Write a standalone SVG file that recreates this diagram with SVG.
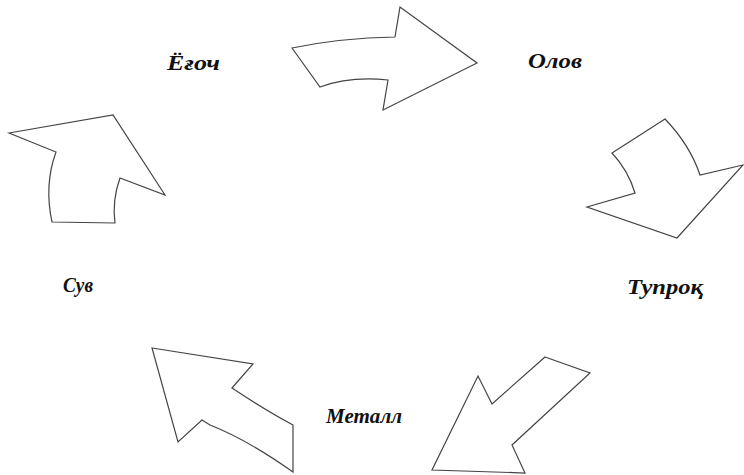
<svg xmlns="http://www.w3.org/2000/svg" width="744" height="475" viewBox="0 0 744 475">
<style>
.lbl{font-family:"Liberation Serif","DejaVu Serif",serif;font-style:italic;font-weight:bold;font-size:20px;fill:#111}
.arr{fill:#fff;stroke:#444;stroke-width:1.2;stroke-linejoin:miter}
</style>
<rect width="744" height="475" fill="#fff"/>
<g id="connectors">
<path class="arr" d="M292,48 Q340,38 395,37 L400,7 L477,63 L383,110 L388,80 Q350,76 320,87 Z"/>
<path class="arr" d="M612,153 L665,119 Q690,145 700,175 L743,165 L677,238 L587,207 L635,193 Q628,170 612,153 Z"/>
<path class="arr" d="M9,133 L113,115 L165,195 L120,178 Q112,200 115,223 L52,222 Q44,185 56,152 Z"/>
<path class="arr" d="M152,348 L253,364 L232,388 Q265,410 293,425 L293,472 Q248,440 210,425 L202,420 L178,442 Z"/>
<path class="arr" d="M545,357 L590,373 L512,445 L525,473 L432,470 L478,376 L492,404 Z"/>
</g>
<g id="node-yogoch"><text class="lbl" x="167" y="70" textLength="53" lengthAdjust="spacingAndGlyphs">Ёғоч</text></g>
<g id="node-olov"><text class="lbl" x="528" y="68" textLength="54" lengthAdjust="spacingAndGlyphs">Олов</text></g>
<g id="node-tuproq"><text class="lbl" x="627" y="294" textLength="76" lengthAdjust="spacingAndGlyphs">Тупроқ</text></g>
<g id="node-suv"><text class="lbl" x="63" y="292" textLength="30" lengthAdjust="spacingAndGlyphs">Сув</text></g>
<g id="node-metall"><text class="lbl" x="326" y="423" textLength="76" lengthAdjust="spacingAndGlyphs">Металл</text></g>
</svg>
